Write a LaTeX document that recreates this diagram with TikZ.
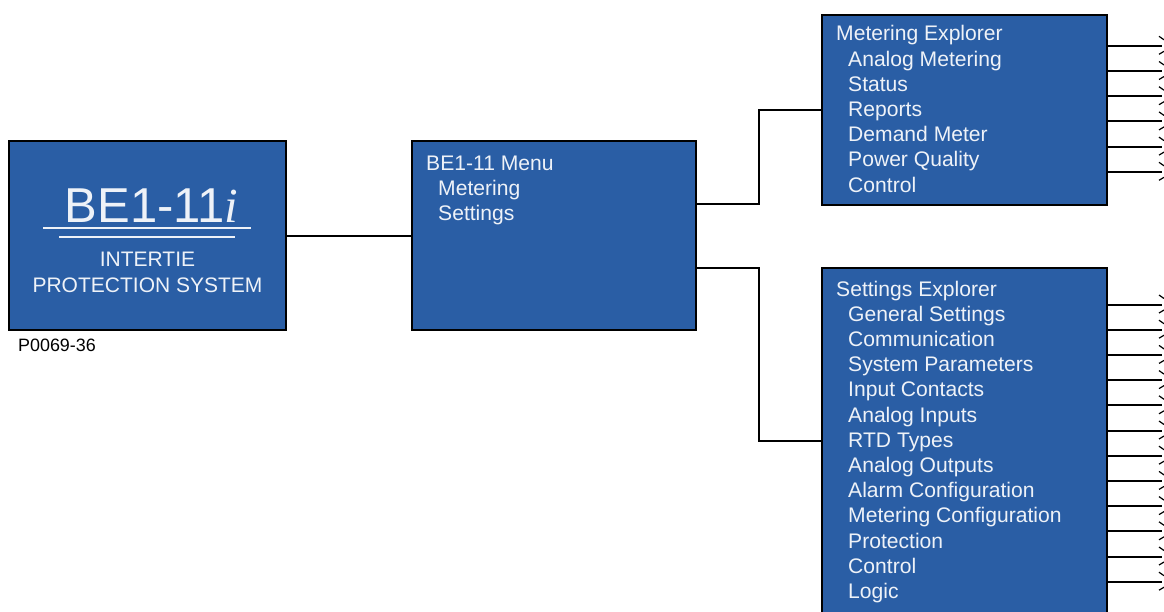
\documentclass[tikz,border=0pt]{standalone}
\usepackage{fontspec}
\usetikzlibrary{calc}
\setmainfont{Liberation Sans}
\newfontfamily\timesfont{Liberation Serif}
\definecolor{boxblue}{RGB}{42,94,165}
\definecolor{boxtext}{RGB}{238,242,248}
\begin{document}
\begin{tikzpicture}[x=1pt,y=-1pt,
  panel/.style={draw=black,line width=2pt,fill=boxblue,rectangle,inner sep=0pt},
  txt/.style={anchor=base west,inner sep=0pt,text=boxtext,font=\fontsize{21.1}{24}\selectfont},
  conn/.style={draw=black,line width=2pt},
  feed/.style={draw=black,line width=2pt},
  tick/.style={draw=black,line width=1.2pt}]
\useasboundingbox (0,0) rectangle (1164,611);
\fill[white] (0,0) rectangle (1164,611);
% boxes
\node[panel,minimum width=277pt,minimum height=189pt] (unit) at (147.5,235.5) {};
\node[panel,minimum width=284pt,minimum height=189pt] (menu) at (554,235.5) {};
\node[panel,minimum width=285pt,minimum height=190pt] (meter) at (964.5,110) {};
\node[panel,minimum width=285pt,minimum height=346pt] (sett) at (964.5,441) {};
% unit box texts
\node[anchor=base,inner sep=0pt,text=boxtext,font=\fontsize{49}{52}\selectfont] (title) at (151.5,222) {BE1-11{\timesfont\itshape i}};
\draw[draw=boxtext,line width=2pt] (43,228) coordinate (u1a) -- (251,228) coordinate (u1b);
\draw[draw=boxtext,line width=2pt] (59,236.5) coordinate (u2a) -- (235,236.5) coordinate (u2b);
\node[anchor=base,inner sep=0pt,text=boxtext,font=\fontsize{21}{24}\selectfont] (inter) at (147.5,266.5) {INTERTIE};
\node[anchor=base,inner sep=0pt,text=boxtext,font=\fontsize{21}{24}\selectfont] (prot) at (147.5,292.3) {PROTECTION SYSTEM};
\node[anchor=base west,inner sep=0pt,text=black,font=\fontsize{17.9}{20}\selectfont] (code) at (18,351.7) {P0069-36};
% menu texts
\node[txt] (m0) at (426,170) {BE1-11 Menu};
\node[txt] (m1) at (438,195.2) {Metering};
\node[txt] (m2) at (438,220.4) {Settings};
% metering explorer texts
\node[txt] (e0) at (836,40.8) {Metering Explorer};
\foreach \t [count=\i] in {Analog Metering,Status,Reports,Demand Meter,Power Quality,Control}
  \node[txt] (e\i) at (848,40.8+25.2*\i) {\t};
% settings explorer texts
\node[txt] (s0) at (836,296) {Settings Explorer};
\foreach \t [count=\i] in {General Settings,Communication,System Parameters,Input Contacts,Analog Inputs,RTD Types,Analog Outputs,Alarm Configuration,Metering Configuration,Protection,Control,Logic}
  \node[txt] (s\i) at (848,296+25.2*\i) {\t};
% connectors
\draw[conn] (unit.east) -- (menu.west);
\coordinate (j1) at (759,204);
\coordinate (j2) at (759,268);
\draw[conn] (menu.east |- j1) -- (j1) |- (meter.west);
\draw[conn] (menu.east |- j2) -- (j2) |- (sett.west);
% feeder lines with break marks
\foreach \k in {0,...,5} {
  \coordinate (mf\k) at (1162,45.8+25.2*\k);
  \draw[feed] (meter.east |- mf\k) -- (mf\k);
  \draw[tick] ($(mf\k)+(-3,-9.5)$) -- ($(mf\k)+(2,-6)$);
  \draw[tick] ($(mf\k)+(-3,8.5)$) -- ($(mf\k)+(2,5.5)$);
}
\foreach \k in {0,...,11} {
  \coordinate (sf\k) at (1162,304.5+25.2*\k);
  \draw[feed] (sett.east |- sf\k) -- (sf\k);
  \draw[tick] ($(sf\k)+(-3,-9.5)$) -- ($(sf\k)+(2,-6)$);
  \draw[tick] ($(sf\k)+(-3,8.5)$) -- ($(sf\k)+(2,5.5)$);
}
\end{tikzpicture}
\end{document}
